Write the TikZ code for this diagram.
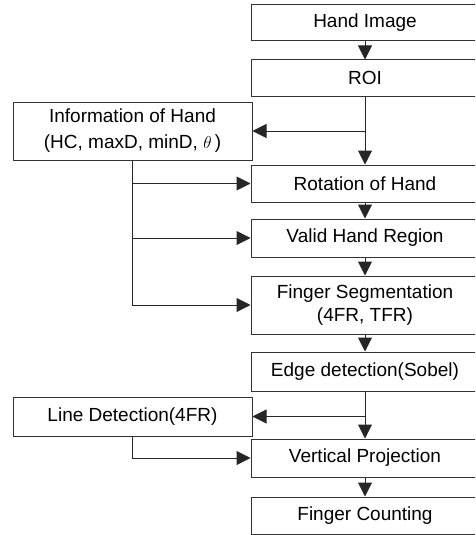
\documentclass[tikz,border=0pt]{standalone}
\usepackage{fontspec}
\setmainfont{Liberation Sans}
\usetikzlibrary{arrows.meta}
\begin{document}
\begin{tikzpicture}[x=1pt,y=-1pt,
  box/.style={draw=black!80, line width=1pt, inner sep=0pt, align=center,
    font=\fontsize{19}{23}\selectfont},
  mainbox/.style={box, minimum width=228pt},
  sidebox/.style={box, minimum width=239pt},
  arr/.style={line width=1pt, draw=black!85, -{Triangle[width=14pt,length=14pt]}}]
\useasboundingbox (0,0) rectangle (475,535);
\clip (0,0) rectangle (475,535);
\node[mainbox, minimum height=36pt] (hi)  at (365,23)    {Hand Image};
\node[mainbox, minimum height=36pt] (roi) at (365,78)    {ROI};
\node[mainbox, minimum height=37pt] (rot) at (365,183.5) {Rotation of Hand};
\node[mainbox, minimum height=38pt] (vhr) at (365,238)   {Valid Hand Region};
\node[mainbox, minimum height=58pt] (fs)  at (365,305)   {Finger Segmentation\\(4FR, TFR)};
\node[mainbox, minimum height=39pt] (ed)  at (365,371.5) {Edge detection(Sobel)};
\node[mainbox, minimum height=38pt] (vp)  at (365,458)   {Vertical Projection};
\node[mainbox, minimum height=37pt] (fc)  at (365,515.5) {Finger Counting};
\node[sidebox, minimum height=58pt, font=\fontsize{19}{26}\selectfont] (info) at (132.5,131) {Information of Hand\\(HC, maxD, minD, $\theta$\,)};
\node[sidebox, minimum height=39pt] (ld)  at (132.5,416.5) {Line Detection(4FR)};
\coordinate (b1) at (366,131);
\coordinate (b2) at (366,416.5);
\draw[arr] (hi) -- (roi);
\draw[arr] (roi) -- (rot);
\draw[arr] (b1) -- (info.east);
\draw[arr] (rot) -- (vhr);
\draw[arr] (vhr) -- (fs);
\draw[arr] (fs) -- (ed);
\draw[arr] (ed) -- (vp);
\draw[arr] (b2) -- (ld.east);
\draw[arr] (vp) -- (fc);
\draw[arr] (info.south) |- (rot.west);
\draw[arr] (info.south) |- (vhr.west);
\draw[arr] (info.south) |- (fs.west);
\draw[arr] (ld.south) |- (vp.west);
\end{tikzpicture}
\end{document}
